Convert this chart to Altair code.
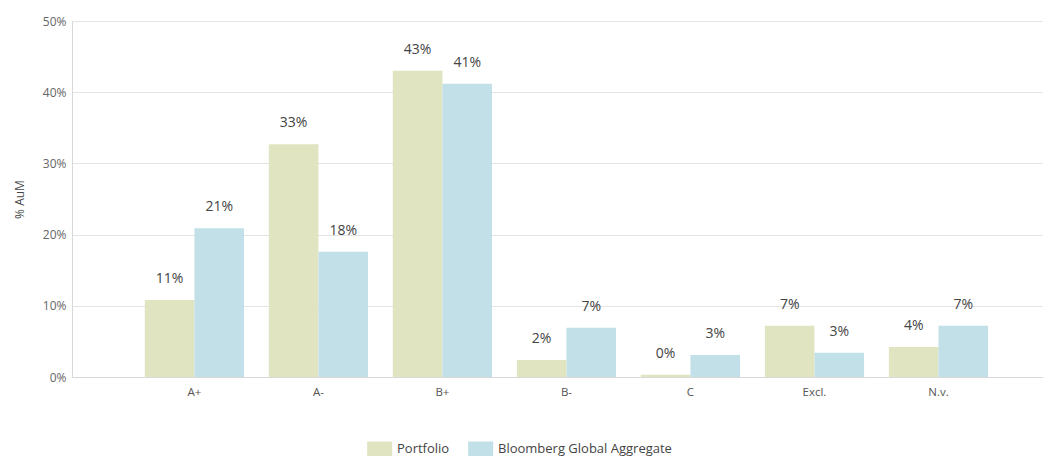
import altair as alt
import pandas as pd

categories = ["A+", "A-", "B+", "B-", "C", "Excl.", "N.v."]
series = ["Portfolio", "Bloomberg Global Aggregate"]
portfolio = [10.8, 32.7, 43.0, 2.4, 0.3, 7.2, 4.2]
bloomberg = [20.9, 17.6, 41.2, 6.9, 3.1, 3.4, 7.2]
colors = ["#e1e4c1", "#c1e0e7"]

rows = []
for c, p, b in zip(categories, portfolio, bloomberg):
    rows.append({"cat": c, "series": series[0], "value": p / 100})
    rows.append({"cat": c, "series": series[1], "value": b / 100})
df = pd.DataFrame(rows)

FONT = "Open Sans"

x = alt.X("cat:N", sort=categories, title=None,
          scale=alt.Scale(paddingInner=0.2, paddingOuter=0.515, align=0.57),
          axis=alt.Axis(labelAngle=0, labelColor="#555", labelFontSize=11.5, labelFont=FONT,
                        ticks=False, domainColor="#d8d8d8", labelPadding=9))
y = alt.Y("value:Q", title="% AuM",
          scale=alt.Scale(domain=[0, 0.5]),
          axis=alt.Axis(format=".0%", values=[0, 0.1, 0.2, 0.3, 0.4, 0.5], ticks=False,
                        labelColor="#666", labelFontSize=12, labelFont=FONT,
                        gridColor="#e4e4e4", domainColor="#d8d8d8", labelPadding=6,
                        titleColor="#444", titleFontSize=12, titleFont=FONT,
                        titleFontWeight="normal", titlePadding=16))
xo = alt.XOffset("series:N", sort=series)
color = alt.Color("series:N", sort=series,
                  scale=alt.Scale(domain=series, range=colors),
                  legend=alt.Legend(title=None, orient="none", direction="horizontal",
                                    legendX=295, legendY=419,
                                    symbolType="M-1,-0.9H2V0.9H-1Z", symbolSize=278,
                                    symbolStrokeWidth=0, labelFontSize=13, labelFont=FONT,
                                    labelColor="#444", columnPadding=18, labelOffset=13,
                                    labelLimit=400))

bars = alt.Chart(df).mark_bar(strokeWidth=0).encode(x=x, y=y, xOffset=xo, color=color)
labels = alt.Chart(df).mark_text(baseline="bottom", dy=-14, fontSize=14, font=FONT,
                                 color="#444").encode(
    x=x, y=y, xOffset=xo, text=alt.Text("value:Q", format=".0%"))

chart = (bars + labels).properties(
    width=971, height=356,
    padding={"left": 5, "top": 7, "right": 0, "bottom": 0},
).configure_view(stroke=None).configure(font=FONT)

chart.save("out.html", embed_options={"renderer": "svg", "actions": False})
